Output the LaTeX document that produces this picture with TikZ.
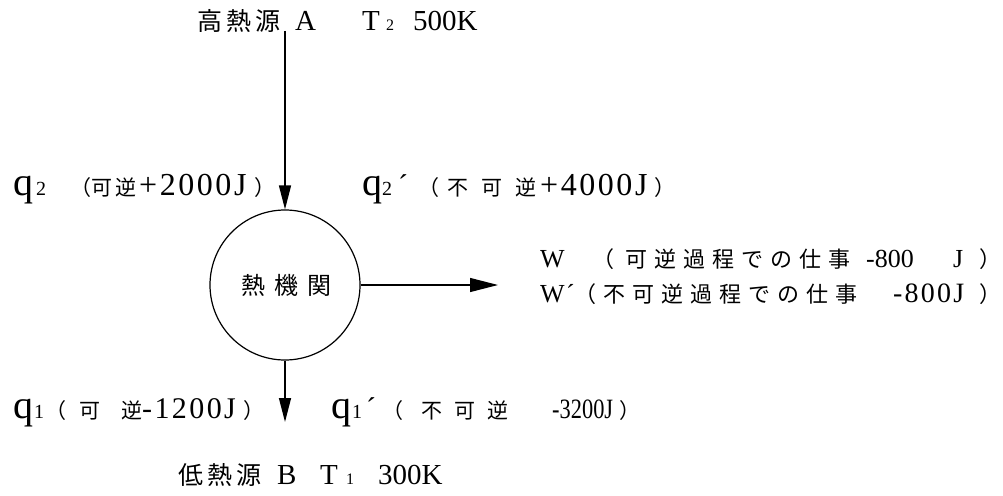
\documentclass[tikz,border=0pt]{standalone}
\usepackage{fontspec}
\setmainfont{Liberation Serif}
\newfontfamily\jp{Noto Sans CJK JP}
\newfontfamily\wide[LetterSpace=8.0]{Liberation Serif}
\usetikzlibrary{arrows.meta}
\begin{document}
\begin{tikzpicture}[x=1pt,y=-1pt,
  txt/.style={inner sep=0pt, anchor=base west},
  arr/.style={line width=1.4pt, -{Triangle[length=24pt,width=12pt]}},
  big/.style={font=\fontsize{29}{29}\selectfont},
  jbig/.style={font=\jp\fontsize{25}{25}\selectfont},
  qq/.style={font=\fontsize{40}{40}\selectfont},
  sub/.style={font=\fontsize{20}{20}\selectfont},
  jl/.style={font=\jp\fontsize{21}{21}\selectfont},
  jw/.style={font=\jp\fontsize{22}{22}\selectfont},
  lw/.style={font=\wide\fontsize{32}{32}\selectfont},
]
\useasboundingbox (0,0) rectangle (1003,495);
% engine
\node[circle, draw, line width=1.2pt, minimum size=150pt, inner sep=0pt] (eng) at (285,285) {};
\node[inner sep=0pt, anchor=base, font=\jp\fontsize{24}{24}\selectfont] (engl) at (286,294) {熱\hspace{9pt}機\hspace{9pt}関};
\coordinate (topsrc) at (285,31);
\coordinate (botsnk) at (285,422);
\coordinate (wend) at (498,285);
\draw[arr] (topsrc) -- (eng.north);
\draw[arr] (eng.south) -- (botsnk);
\draw[arr, line width=1.2pt, -{Triangle[length=28pt,width=14pt]}] (eng.east) -- (wend);
% top source
\node[txt,jbig] (ta1) at (197,31) {高\hspace{4pt}熱\hspace{4pt}源};
\node[txt,big] (ta2) at (295,31) {A};
\node[txt,big] (ta3) at (362,31) {T};
\node[txt,font=\fontsize{16}{16}\selectfont] (ta4) at (386,31) {2};
\node[txt,big] (ta5) at (413,31) {500K};
% bottom sink
\node[txt,jbig] (tb1) at (178,484) {低\hspace{4pt}熱\hspace{4pt}源};
\node[txt,big] (tb2) at (277,484) {B};
\node[txt,big] (tb3) at (320,484) {T};
\node[txt,font=\fontsize{16}{16}\selectfont] (tb4) at (346,484) {1};
\node[txt,big] (tb5) at (378,484) {300K};
% q2 reversible
\node[txt,qq] (q2a) at (13,195) {q};
\node[txt,sub] (q2b) at (36,195) {2};
\node[txt,jl] (q2c) at (70,195) {（可\hspace{3pt}逆};
\node[txt,lw] (q2d) at (139,195) {+2000J};
\node[txt,jl] (q2e) at (254,195) {）};
% q2' irreversible
\node[txt,qq] (q3a) at (362,195) {q};
\node[txt,sub] (q3b) at (382,195) {2};
\node[txt,font=\fontsize{30}{30}\selectfont] (q3c) at (398,195) {´};
\node[txt,jl] (q3d) at (418,195) {（};
\node[txt,jl] (q3e) at (447,195) {不\hspace{13pt}可\hspace{13pt}逆};
\node[txt,lw] (q3f) at (540,195) {+4000J};
\node[txt,jl] (q3g) at (654,195) {）};
% q1 reversible
\node[txt,qq] (q1a) at (13,418) {q};
\node[txt,sub] (q1b) at (34,418) {1};
\node[txt,jl] (q1c) at (45,418) {（};
\node[txt,jl] (q1d) at (79,418) {可\hspace{21pt}逆};
\node[txt,font=\wide\fontsize{30}{30}\selectfont] (q1e) at (142,418) {-1200J};
\node[txt,jl] (q1f) at (243,418) {）};
% q1' irreversible
\node[txt,qq] (q4a) at (331,418) {q};
\node[txt,sub] (q4b) at (352,418) {1};
\node[txt,font=\fontsize{30}{30}\selectfont] (q4c) at (366,418) {´};
\node[txt,jl] (q4d) at (382,418) {（};
\node[txt,jl] (q4e) at (421,418) {不\hspace{12pt}可\hspace{12pt}逆};
\node[txt,font=\fontsize{28}{28}\selectfont] (q4f) at (552,418) {\scalebox{0.8}[1]{-3200J}};
\node[txt,jl] (q4g) at (619,418) {）};
% W reversible
\node[txt,font=\fontsize{26}{26}\selectfont] (w1a) at (540,267) {W};
\node[txt,jw] (w1b) at (592,267) {（};
\node[txt,jw] (w1c) at (625,267) {可\hspace{7pt}逆\hspace{7pt}過\hspace{7pt}程\hspace{7pt}で\hspace{7pt}の\hspace{7pt}仕\hspace{7pt}事};
\node[txt,font=\fontsize{26}{26}\selectfont] (w1d) at (866,267) {-800};
\node[txt,font=\fontsize{26}{26}\selectfont] (w1e) at (953,267) {J};
\node[txt,jw] (w1f) at (979,267) {）};
% W' irreversible
\node[txt,font=\fontsize{26}{26}\selectfont] (w2a) at (540,302) {W};
\node[txt,font=\fontsize{26}{26}\selectfont] (w2b) at (566,302) {´};
\node[txt,jw] (w2c) at (574,302) {（};
\node[txt,jw] (w2d) at (603,302) {不\hspace{7pt}可\hspace{7pt}逆\hspace{7pt}過\hspace{7pt}程\hspace{7pt}で\hspace{7pt}の\hspace{7pt}仕\hspace{7pt}事};
\node[txt,font=\wide\fontsize{28}{28}\selectfont] (w2e) at (893,302) {-800J};
\node[txt,jw] (w2f) at (979,302) {）};
\end{tikzpicture}
\end{document}
